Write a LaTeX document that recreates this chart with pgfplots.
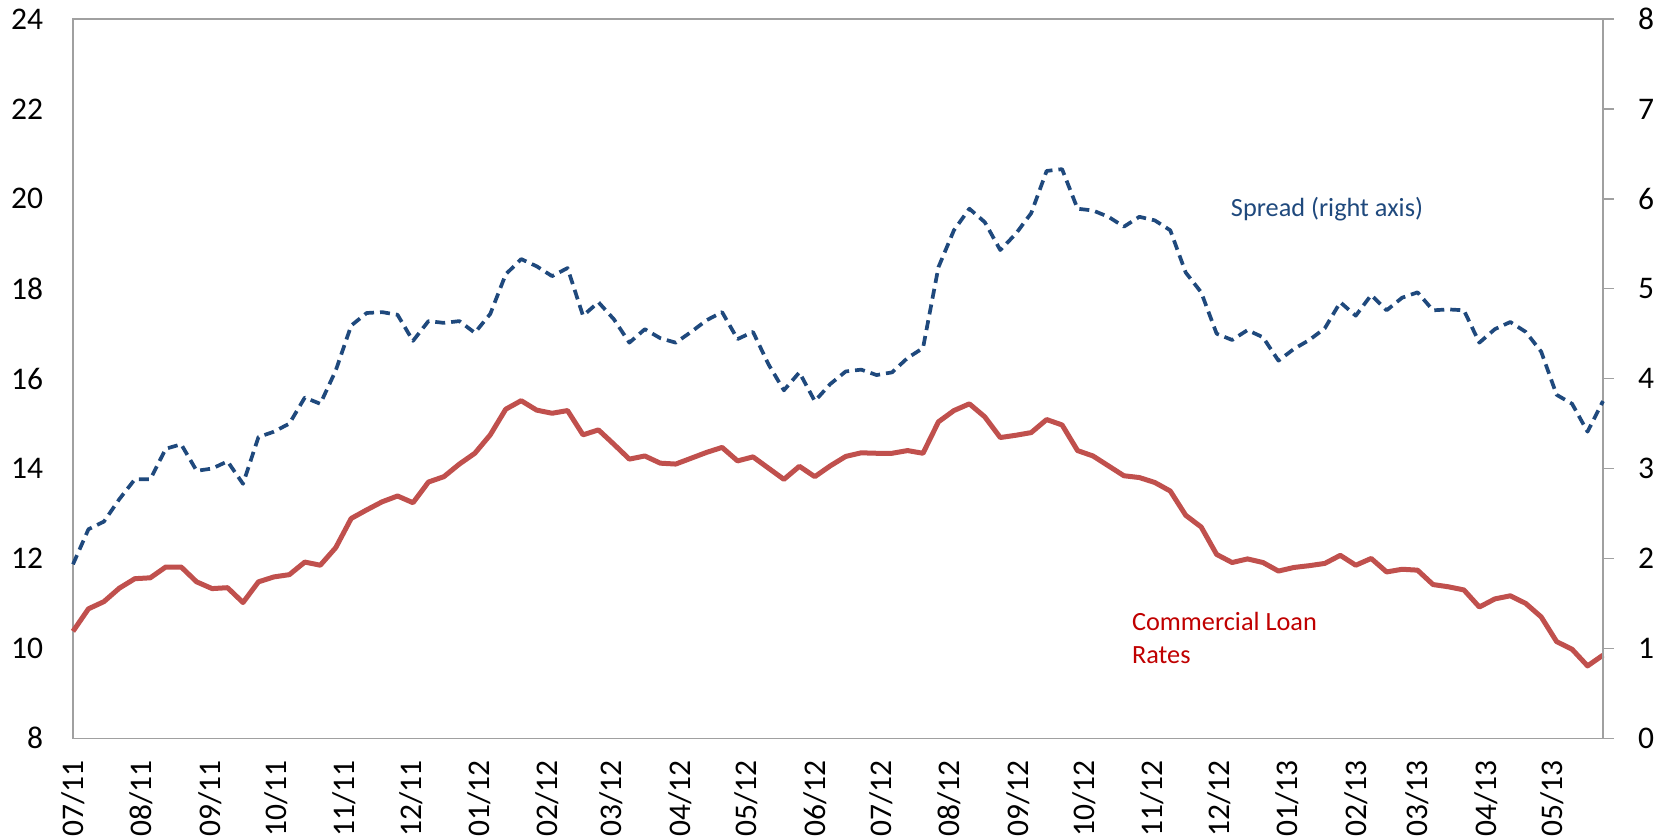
\documentclass[border=0pt]{standalone}
\usepackage{fontspec}
\setmainfont{Carlito}
\usepackage{pgfplots}
\usepackage{pgfplotstable}
\pgfplotsset{compat=1.18}
\definecolor{redline}{HTML}{C0504D}
\definecolor{blueline}{HTML}{1F497D}
\definecolor{redtext}{HTML}{C00000}
\definecolor{axisgray}{HTML}{A0A0A0}

\pgfplotstableread{
i red spread
0 10.38 1.935
1 10.88 2.325
2 11.04 2.41
3 11.34 2.66
4 11.55 2.88
5 11.57 2.88
6 11.81 3.22
7 11.81 3.27
8 11.48 2.975
9 11.33 3.00
10 11.35 3.08
11 11.02 2.83
12 11.48 3.35
13 11.59 3.41
14 11.64 3.50
15 11.92 3.79
16 11.85 3.72
17 12.24 4.09
18 12.89 4.59
19 13.08 4.73
20 13.26 4.74
21 13.39 4.71
22 13.24 4.42
23 13.70 4.64
24 13.82 4.62
25 14.10 4.64
26 14.34 4.51
27 14.75 4.72
28 15.32 5.16
29 15.51 5.33
30 15.30 5.25
31 15.23 5.14
32 15.29 5.23
33 14.75 4.70
34 14.86 4.85
35 14.54 4.66
36 14.21 4.40
37 14.28 4.55
38 14.12 4.45
39 14.10 4.40
40 14.23 4.52
41 14.36 4.65
42 14.47 4.74
43 14.17 4.44
44 14.26 4.52
45 14.01 4.16
46 13.76 3.87
47 14.05 4.07
48 13.82 3.75
49 14.06 3.94
50 14.27 4.08
51 14.35 4.10
52 14.34 4.04
53 14.34 4.07
54 14.40 4.23
55 14.34 4.34
56 15.04 5.24
57 15.29 5.65
58 15.44 5.89
59 15.15 5.74
60 14.69 5.43
61 14.74 5.61
62 14.80 5.84
63 15.09 6.31
64 14.97 6.33
65 14.40 5.89
66 14.28 5.87
67 14.06 5.80
68 13.84 5.69
69 13.80 5.80
70 13.69 5.76
71 13.50 5.65
72 12.96 5.18
73 12.70 4.96
74 12.09 4.50
75 11.91 4.43
76 11.99 4.54
77 11.91 4.46
78 11.72 4.20
79 11.80 4.33
80 11.84 4.43
81 11.89 4.56
82 12.07 4.85
83 11.85 4.70
84 12.00 4.93
85 11.70 4.76
86 11.76 4.90
87 11.74 4.96
88 11.42 4.76
89 11.37 4.77
90 11.30 4.76
91 10.92 4.40
92 11.10 4.55
93 11.17 4.63
94 11.00 4.52
95 10.70 4.30
96 10.15 3.82
97 9.98 3.72
98 9.61 3.41
99 9.85 3.75
}\datatable

\begin{document}
\begin{tikzpicture}
\useasboundingbox (0,0) rectangle (834.5bp,420bp);
\begin{axis}[
  at={(36.5bp,50.85bp)}, anchor=south west,
  scale only axis, width=765bp, height=359.65bp,
  xmin=0, xmax=99, ymin=8, ymax=24,
  clip=false,
  ytick={8,10,...,24},
  xtick={0,4.4286,8.857,13.143,17.571,21.857,26.286,30.714,34.857,39.286,43.571,48,52.286,56.714,61.143,65.429,69.857,74.143,78.571,83,87,91.429,95.714},
  xticklabels={07/11,08/11,09/11,10/11,11/11,12/11,01/12,02/12,03/12,04/12,05/12,06/12,07/12,08/12,09/12,10/12,11/12,12/12,01/13,02/13,03/13,04/13,05/13},
  major tick length=0pt,
  axis line style={axisgray, line width=0.7bp},
  /pgf/number format/assume math mode=true,
  ticklabel style={font=\fontsize{15.75bp}{18bp}\selectfont, inner sep=0pt},
  yticklabel style={anchor=east},
  yticklabel shift=14.8bp,
  xticklabel style={rotate=90, anchor=east},
  xticklabel shift=11bp,
]
\addplot[redline, line width=2.5bp, line join=round] table[x=i, y=red] {\datatable};
\node[anchor=base west, inner sep=0pt, text=blueline, font=\fontsize{13.15bp}{15bp}\selectfont] at (axis cs:74.9,19.61) {Spread (right axis)};
\node[anchor=base west, inner sep=0pt, text=redtext, font=\fontsize{13.15bp}{15bp}\selectfont] at (axis cs:68.5,10.39) {Commercial Loan};
\node[anchor=base west, inner sep=0pt, text=redtext, font=\fontsize{13.15bp}{15bp}\selectfont] at (axis cs:68.5,9.667) {Rates};
\end{axis}
\begin{axis}[
  at={(36.5bp,50.85bp)}, anchor=south west,
  scale only axis, width=765bp, height=359.65bp,
  xmin=0, xmax=99, ymin=0, ymax=8,
  clip=false,
  axis x line=none,
  axis y line*=right,
  ytick={0,1,...,8},
  tick align=outside,
  major tick length=5.35bp,
  axis line style={axisgray, line width=0.7bp},
  tick style={axisgray, line width=0.7bp},
  /pgf/number format/assume math mode=true,
  ticklabel style={font=\fontsize{15.75bp}{18bp}\selectfont, inner sep=0pt},
  yticklabel style={anchor=west},
  yticklabel shift=12bp,
]
\addplot[blueline, line width=1.85bp, dash pattern=on 5bp off 3bp, line join=round] table[x=i, y=spread] {\datatable};
\end{axis}
\end{tikzpicture}
\end{document}
